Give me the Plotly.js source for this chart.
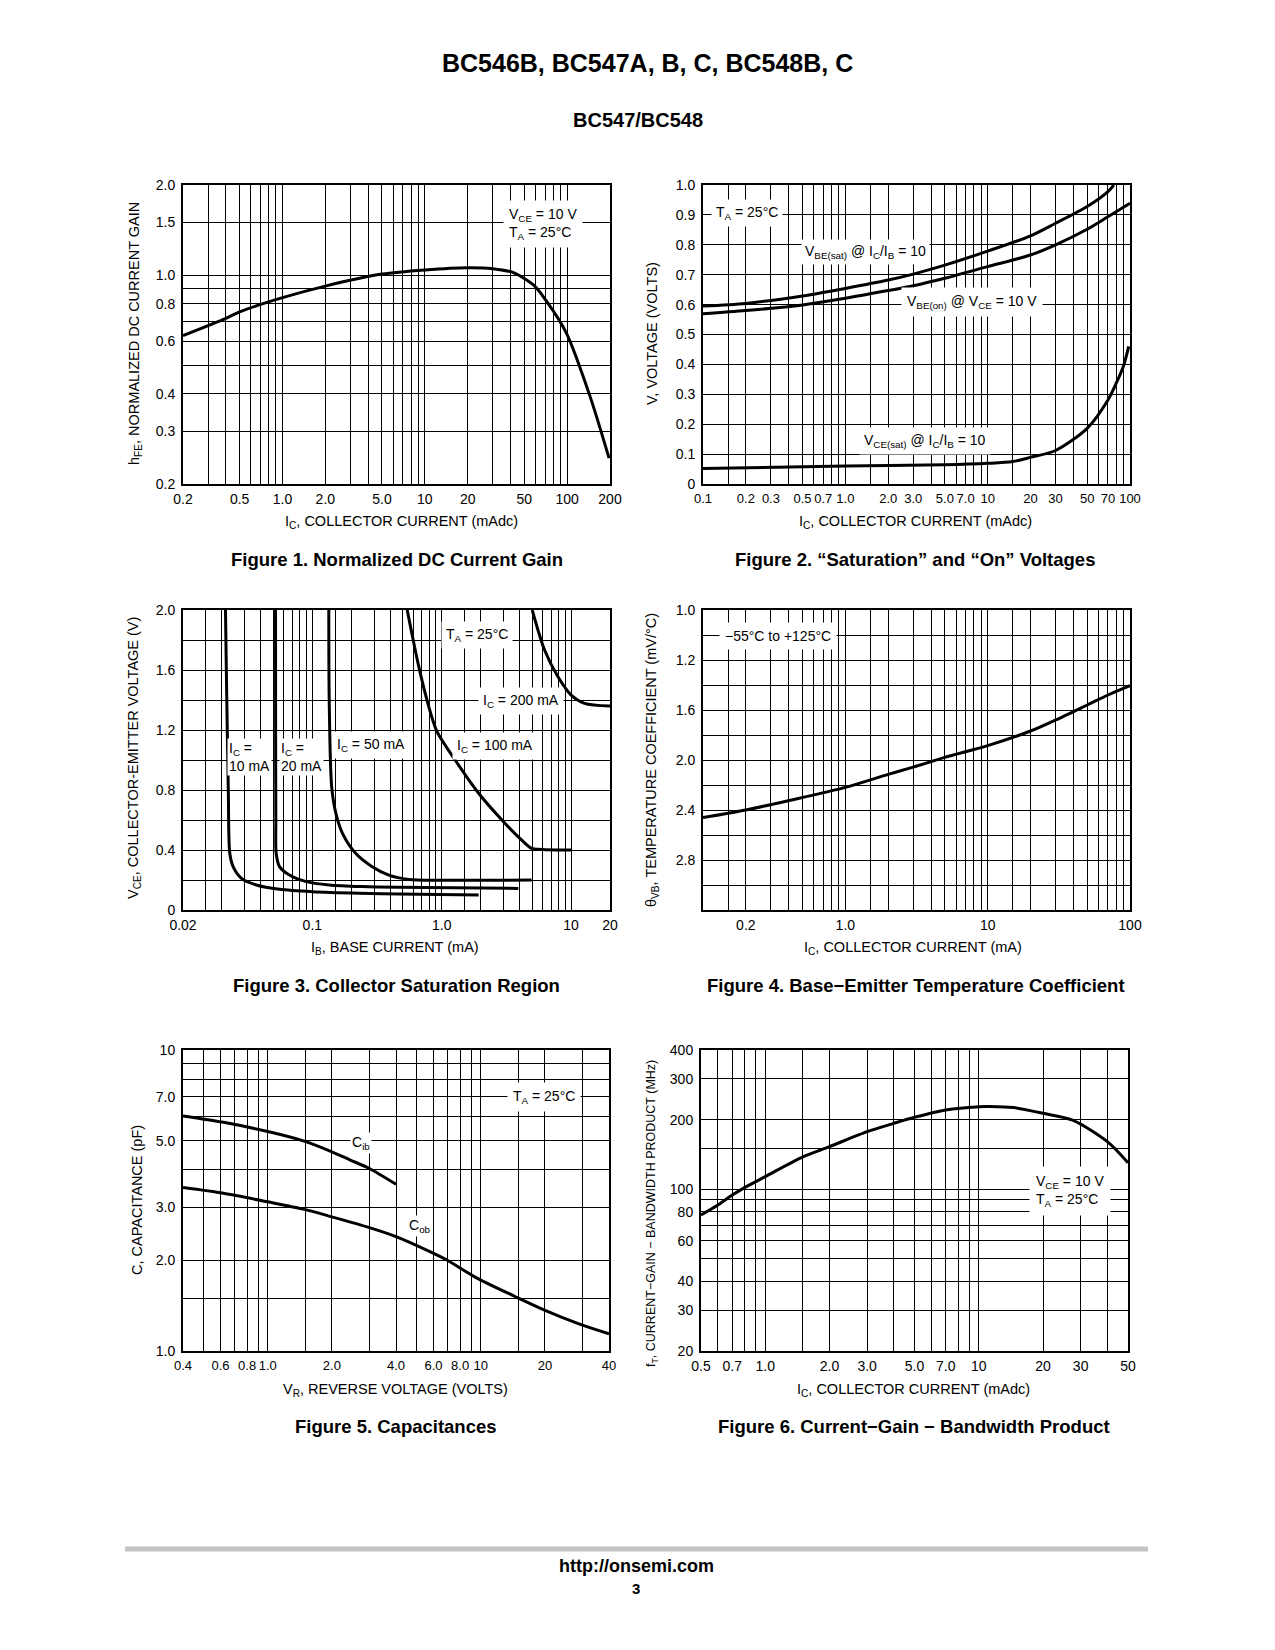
<!DOCTYPE html>
<html><head><meta charset="utf-8">
<script src="https://cdn.plot.ly/plotly-3.0.1.min.js"></script>
<style>html,body{margin:0;padding:0;background:#fff;} #chart{width:1275px;height:1650px;}</style>
</head><body><div id="chart"></div>
<script>
// ---------------- DATA ----------------
// Figure 1: Normalized DC current gain
const fig1_ic  = [0.2, 0.4, 0.5, 1.0, 2.0, 5.0, 10, 20, 30, 42, 58, 72, 99, 145, 197];
const fig1_hfe = [0.627, 0.716, 0.753, 0.84, 0.918, 1.007, 1.04, 1.058, 1.05, 1.018, 0.926, 0.814, 0.638, 0.392, 0.244];
const fig1_xticks  = [0.2, 0.5, 1, 2, 5, 10, 20, 50, 100, 200];
const fig1_xlabels = ['0.2','0.5','1.0','2.0','5.0','10','20','50','100','200'];
const fig1_xgrid   = [0.3,0.4,0.6,0.7,0.8,0.9,3,4,6,7,8,9,30,40,60,70,80,90];
const fig1_yticks  = [0.2, 0.3, 0.4, 0.6, 0.8, 1.0, 1.5, 2.0];
const fig1_ylabels = ['0.2','0.3','0.4','0.6','0.8','1.0','1.5','2.0'];
const fig1_ygrid   = [0.5, 0.7, 0.9];

// Figure 2: Saturation and On voltages
const fig2_ic_besat = [0.1, 0.2, 0.5, 1.0, 2.0, 3.0, 5.0, 10, 20, 30, 50, 70, 77];
const fig2_vbesat   = [0.595, 0.604, 0.629, 0.654, 0.682, 0.702, 0.732, 0.779, 0.83, 0.872, 0.928, 0.978, 1.0];
const fig2_ic_beon  = [0.1, 0.2, 0.5, 1.0, 2.0, 3.0, 5.0, 10, 20, 30, 50, 70, 100];
const fig2_vbeon    = [0.569, 0.58, 0.599, 0.621, 0.647, 0.663, 0.688, 0.727, 0.766, 0.8, 0.852, 0.894, 0.939];
const fig2_ic_cesat = [0.1, 1.0, 5.0, 10, 15, 20, 30, 50, 70, 80, 90, 98];
const fig2_vcesat   = [0.052, 0.06, 0.064, 0.069, 0.075, 0.089, 0.112, 0.186, 0.281, 0.337, 0.395, 0.46];
const fig2_xticks  = [0.1, 0.2, 0.3, 0.5, 0.7, 1, 2, 3, 5, 7, 10, 20, 30, 50, 70, 100];
const fig2_xlabels = ['0.1','0.2','0.3','0.5','0.7','1.0','2.0','3.0','5.0','7.0','10','20','30','50','70','100'];
const fig2_xgrid   = [0.15,0.4,0.6,0.8,0.9,1.5,4,6,8,9,15,40,60,80,90];
const fig2_yticks  = [0, 0.1, 0.2, 0.3, 0.4, 0.5, 0.6, 0.7, 0.8, 0.9, 1.0];
const fig2_ylabels = ['0','0.1','0.2','0.3','0.4','0.5','0.6','0.7','0.8','0.9','1.0'];
const fig2_ygrid   = [];

// Figure 3: Collector saturation region
const fig3_ib_10  = [0.0213, 0.0218, 0.0224, 0.023, 0.0244, 0.0283, 0.0369, 0.0557, 0.1004, 0.23, 0.465, 1.93];
const fig3_vce_10 = [2.0, 1.4, 0.8, 0.378, 0.289, 0.211, 0.167, 0.138, 0.122, 0.112, 0.107, 0.1];
const fig3_ib_20  = [0.0519, 0.052, 0.0522, 0.0525, 0.0557, 0.0665, 0.0894, 0.135, 0.244, 0.465, 3.91];
const fig3_vce_20 = [2.0, 1.2, 0.6, 0.378, 0.289, 0.233, 0.189, 0.167, 0.156, 0.151, 0.144];
const fig3_ib_50  = [0.134, 0.135, 0.141, 0.152, 0.171, 0.216, 0.29, 0.39, 0.556, 0.948, 4.95];
const fig3_vce_50 = [2.0, 1.4, 0.822, 0.644, 0.511, 0.378, 0.289, 0.233, 0.204, 0.198, 0.2];
const fig3_ib_100  = [0.541, 0.665, 0.794, 0.92, 1.27, 1.93, 2.92, 4.14, 4.95, 5.92, 10];
const fig3_vce_100 = [2.0, 1.622, 1.356, 1.189, 1.0, 0.778, 0.6, 0.467, 0.411, 0.404, 0.4];
const fig3_ib_200  = [5.01, 6.24, 7.9, 10.0, 12.7, 20];
const fig3_vce_200 = [2.0, 1.733, 1.556, 1.433, 1.378, 1.36];
const fig3_xticks  = [0.01, 0.1, 1, 10, 20];
const fig3_xlabels = ['0.02','0.1','1.0','10','20'];
const fig3_xgrid   = [0.015,0.02,0.03,0.04,0.05,0.06,0.07,0.08,0.09,0.15,0.2,0.3,0.4,0.5,0.6,0.7,0.8,0.9,1.5,2,3,4,5,6,7,8,9];
const fig3_yticks  = [0, 0.4, 0.8, 1.2, 1.6, 2.0];
const fig3_ylabels = ['0','0.4','0.8','1.2','1.6','2.0'];
const fig3_ygrid   = [0.2, 0.6, 1.0, 1.4, 1.8];

// Figure 4: Base-emitter temperature coefficient
const fig4_ic    = [0.1, 0.2, 0.4, 1.0, 2.0, 3.0, 5.0, 10, 20, 30, 50, 70, 100];
const fig4_theta = [2.461, 2.40, 2.325, 2.219, 2.115, 2.057, 1.979, 1.885, 1.768, 1.68, 1.56, 1.48, 1.405];
const fig4_xticks  = [0.2, 1, 10, 100];
const fig4_xlabels = ['0.2','1.0','10','100'];
const fig4_xgrid   = [0.15,0.3,0.4,0.5,0.6,0.7,0.8,0.9,1.5,2,3,4,5,6,7,8,9,15,20,30,40,50,60,70,80,90];
const fig4_yticks  = [0.8, 1.2, 1.6, 2.0, 2.4, 2.8];
const fig4_ylabels = ['1.0','1.2','1.6','2.0','2.4','2.8'];
const fig4_ygrid   = [1.0, 1.4, 1.8, 2.2, 2.6, 3.0];

// Figure 5: Capacitances
const fig5_vr_ib = [0.4, 0.62, 1.0, 1.47, 2.0, 2.44, 3.0, 4.0];
const fig5_cib   = [6.04, 5.75, 5.36, 4.99, 4.59, 4.31, 4.04, 3.58];
const fig5_vr_ob = [0.4, 0.62, 1.0, 1.47, 2.0, 3.0, 4.0, 5.77, 6.9, 9.55, 14.4, 19.3, 28.9, 40];
const fig5_cob   = [3.49, 3.34, 3.13, 2.96, 2.79, 2.57, 2.40, 2.14, 2.01, 1.75, 1.52, 1.38, 1.23, 1.14];
const fig5_xticks  = [0.4, 0.6, 0.8, 1, 2, 4, 6, 8, 10, 20, 40];
const fig5_xlabels = ['0.4','0.6','0.8','1.0','2.0','4.0','6.0','8.0','10','20','40'];
const fig5_xgrid   = [0.5, 0.7, 0.9, 1.5, 3, 5, 7, 9, 15, 30];
const fig5_yticks  = [1, 2, 3, 5, 7, 10];
const fig5_ylabels = ['1.0','2.0','3.0','5.0','7.0','10'];
const fig5_ygrid   = [1.5, 4, 6, 8, 9];

// Figure 6: Current-gain bandwidth product
const fig6_ic = [0.5, 0.6, 0.7, 0.8, 1.0, 1.5, 2.0, 3.0, 4.0, 5.0, 7.0, 10, 11.3, 14.5, 20, 27.5, 40, 50];
const fig6_ft = [77.4, 85.5, 94.4, 101.7, 113.4, 138, 152.9, 177.5, 192.8, 204.7, 220.3, 227.6, 228, 225.5, 213, 199, 160.7, 130.3];
const fig6_xticks  = [0.5, 0.7, 1, 2, 3, 5, 7, 10, 20, 30, 50];
const fig6_xlabels = ['0.5','0.7','1.0','2.0','3.0','5.0','7.0','10','20','30','50'];
const fig6_xgrid   = [0.6, 0.8, 0.9, 1.5, 4, 6, 8, 9, 40];
const fig6_yticks  = [20, 30, 40, 60, 80, 100, 200, 300, 400];
const fig6_ylabels = ['20','30','40','60','80','100','200','300','400'];
const fig6_ygrid   = [50, 70, 90, 150];

// ---------------- LAYOUT HELPERS ----------------
const W = 1275, H = 1650;
const FONT = "'Liberation Sans',Arial,Helvetica,sans-serif";
const px = p => p / W;
const py = p => 1 - p / H;
const L10 = Math.log10;

function minorGrid(vals) {
  return {tickmode: 'array', tickvals: vals, showgrid: true, gridcolor: '#000', gridwidth: 1, ticks: ''};
}
function xax(domain, range, type, vals, text, grid, anchor, fsize) {
  return {
    domain: [px(domain[0]), px(domain[1])], range: range, type: type,
    tickmode: 'array', tickvals: vals, ticktext: text, tickangle: 0,
    showgrid: true, gridcolor: '#000', gridwidth: 1, zeroline: false,
    showline: true, linecolor: '#000', linewidth: 2, mirror: true,
    ticks: '', ticklabelstandoff: 1, anchor: anchor, fixedrange: true,
    minor: minorGrid(grid),
    tickfont: {family: FONT, size: fsize || 14, color: '#000'}
  };
}
function yax(domain, range, type, vals, text, grid, anchor) {
  return {
    domain: [py(domain[1]), py(domain[0])], range: range, type: type,
    tickmode: 'array', tickvals: vals, ticktext: text,
    showgrid: true, gridcolor: '#000', gridwidth: 1, zeroline: false,
    showline: true, linecolor: '#000', linewidth: 2, mirror: true,
    ticks: '', ticklabelstandoff: 3, anchor: anchor, fixedrange: true,
    minor: minorGrid(grid),
    tickfont: {family: FONT, size: 14, color: '#000'}
  };
}
function curve(x, y, xa, ya) {
  return {x: x, y: y, xaxis: xa, yaxis: ya, type: 'scatter', mode: 'lines',
    line: {color: '#000', width: 3, shape: 'spline', smoothing: 0.8}, hoverinfo: 'skip'};
}

const traces = [
  curve(fig1_ic, fig1_hfe, 'x', 'y'),
  curve(fig2_ic_besat, fig2_vbesat, 'x2', 'y2'),
  curve(fig2_ic_beon, fig2_vbeon, 'x2', 'y2'),
  curve(fig2_ic_cesat, fig2_vcesat, 'x2', 'y2'),
  curve(fig3_ib_10, fig3_vce_10, 'x3', 'y3'),
  curve(fig3_ib_20, fig3_vce_20, 'x3', 'y3'),
  curve(fig3_ib_50, fig3_vce_50, 'x3', 'y3'),
  curve(fig3_ib_100, fig3_vce_100, 'x3', 'y3'),
  curve(fig3_ib_200, fig3_vce_200, 'x3', 'y3'),
  curve(fig4_ic, fig4_theta, 'x4', 'y4'),
  curve(fig5_vr_ib, fig5_cib, 'x5', 'y5'),
  curve(fig5_vr_ob, fig5_cob, 'x5', 'y5'),
  curve(fig6_ic, fig6_ft, 'x6', 'y6')
];

// plot boxes [left,right] and [top,bottom] in page pixels
const B1 = {x: [183, 610], y: [185, 484]};
const B2 = {x: [703, 1130], y: [185, 484]};
const B3 = {x: [183, 610], y: [610, 910]};
const B4 = {x: [703, 1130], y: [610, 910]};
const B5 = {x: [183, 609], y: [1050, 1351]};
const B6 = {x: [701, 1128], y: [1050, 1351]};

function txt(text, x, y, opts) {
  return Object.assign({
    text: text, xref: 'paper', yref: 'paper', x: px(x), y: py(y),
    xanchor: 'center', yanchor: 'middle', showarrow: false,
    font: {family: FONT, size: 14, color: '#000'}
  }, opts || {});
}
function lbl(text, x, y, pad, align) {
  return txt(text, x, y, {bgcolor: '#fff', borderpad: pad === undefined ? 3 : pad, align: align || 'center'});
}
const AX = {family: FONT, size: 14.5, color: '#000'};
function xtitle(text, x, y) { return txt(text, x, y, {font: AX}); }
function ytitle(text, x, y, size) {
  return txt(text, x, y, {textangle: -90, font: {family: FONT, size: size || 14.5, color: '#000'}});
}
const CAP = {family: FONT, size: 18.5, color: '#000'};

const annotations = [
  txt('<b>BC546B, BC547A, B, C, BC548B, C</b>', 647, 63, {font: {family: FONT, size: 25, color: '#000'}}),
  txt('<b>BC547/BC548</b>', 638, 120, {font: {family: FONT, size: 20, color: '#000'}}),

  // axis titles
  xtitle('I<sub>C</sub>, COLLECTOR CURRENT (mAdc)', 401, 522),
  ytitle('h<sub>FE</sub>, NORMALIZED DC CURRENT GAIN', 135, 334),
  xtitle('I<sub>C</sub>, COLLECTOR CURRENT (mAdc)', 915, 522),
  ytitle('V, VOLTAGE (VOLTS)', 652, 334),
  xtitle('I<sub>B</sub>, BASE CURRENT (mA)', 395, 948),
  ytitle('V<sub>CE</sub>, COLLECTOR-EMITTER VOLTAGE (V)', 134, 758),
  xtitle('I<sub>C</sub>, COLLECTOR CURRENT (mA)', 913, 948),
  ytitle('θ<sub>VB</sub>, TEMPERATURE COEFFICIENT (mV/°C)', 652, 760),
  xtitle('V<sub>R</sub>, REVERSE VOLTAGE (VOLTS)', 395, 1390),
  ytitle('C, CAPACITANCE (pF)', 137, 1200),
  xtitle('I<sub>C</sub>, COLLECTOR CURRENT (mAdc)', 913, 1390),
  ytitle('f<sub>T</sub>, CURRENT−GAIN − BANDWIDTH PRODUCT (MHz)', 652, 1214, 12.5),

  // captions
  txt('<b>Figure 1. Normalized DC Current Gain</b>', 397, 560, {font: CAP}),
  txt('<b>Figure 2. “Saturation” and “On” Voltages</b>', 915, 560, {font: CAP}),
  txt('<b>Figure 3. Collector Saturation Region</b>', 396, 986, {font: CAP}),
  txt('<b>Figure 4. Base−Emitter Temperature Coefficient</b>', 916, 986, {font: CAP}),
  txt('<b>Figure 5. Capacitances</b>', 396, 1426, {font: CAP}),
  txt('<b>Figure 6. Current−Gain − Bandwidth Product</b>', 914, 1426, {font: CAP}),

  // in-chart labels
  lbl('V<sub>CE</sub> = 10 V<br>T<sub>A</sub> = 25°C', 543, 224, 5, 'left'),
  lbl('T<sub>A</sub> = 25°C', 747, 213, 4),
  lbl('V<sub>BE(sat)</sub> @ I<sub>C</sub>/I<sub>B</sub> = 10', 865, 252, 3),
  lbl('V<sub>BE(on)</sub> @ V<sub>CE</sub> = 10 V', 972, 302, 5),
  lbl('V<sub>CE(sat)</sub> @ I<sub>C</sub>/I<sub>B</sub> = 10', 925, 441, 4),
  lbl('T<sub>A</sub> = 25°C', 477, 635, 4),
  lbl('I<sub>C</sub> = 200 mA', 521, 701, 4),
  lbl('I<sub>C</sub> = 100 mA', 495, 746, 4),
  lbl('I<sub>C</sub> = 50 mA', 371, 745, 4),
  lbl('I<sub>C</sub> =<br>10 mA', 249, 757, 1, 'left'),
  lbl('I<sub>C</sub> =<br>20 mA', 301, 757, 1, 'left'),
  lbl('−55°C to +125°C', 778, 636, 5),
  lbl('T<sub>A</sub> = 25°C', 544, 1097, 5),
  lbl('C<sub>ib</sub>', 361, 1143, 1),
  lbl('C<sub>ob</sub>', 420, 1226, 1),
  lbl('V<sub>CE</sub> = 10 V<br>T<sub>A</sub> = 25°C', 1070, 1191, 6, 'left'),

  // footer
  txt('<b>http://onsemi.com</b>', 636, 1566, {font: {family: FONT, size: 18, color: '#000'}}),
  txt('<b>3</b>', 636, 1588, {font: {family: FONT, size: 15, color: '#000'}})
];

const layout = {
  width: W, height: H, margin: {l: 0, r: 0, t: 0, b: 0},
  paper_bgcolor: '#fff', plot_bgcolor: '#fff', showlegend: false, hovermode: false,
  font: {family: FONT, color: '#000'},
  xaxis:  xax(B1.x, [L10(0.2), L10(200)], 'log', fig1_xticks, fig1_xlabels, fig1_xgrid, 'y'),
  yaxis:  yax(B1.y, [L10(0.2), L10(2.0)], 'log', fig1_yticks, fig1_ylabels, fig1_ygrid, 'x'),
  xaxis2: xax(B2.x, [-1, 2], 'log', fig2_xticks, fig2_xlabels, fig2_xgrid, 'y2', 13),
  yaxis2: yax(B2.y, [0, 1], 'linear', fig2_yticks, fig2_ylabels, fig2_ygrid, 'x2'),
  xaxis3: xax(B3.x, [L10(0.01), L10(20)], 'log', fig3_xticks, fig3_xlabels, fig3_xgrid, 'y3'),
  yaxis3: yax(B3.y, [0, 2], 'linear', fig3_yticks, fig3_ylabels, fig3_ygrid, 'x3'),
  xaxis4: xax(B4.x, [-1, 2], 'log', fig4_xticks, fig4_xlabels, fig4_xgrid, 'y4'),
  yaxis4: yax(B4.y, [3.2, 0.8], 'linear', fig4_yticks, fig4_ylabels, fig4_ygrid, 'x4'),
  xaxis5: xax(B5.x, [L10(0.4), L10(40)], 'log', fig5_xticks, fig5_xlabels, fig5_xgrid, 'y5', 13),
  yaxis5: yax(B5.y, [0, 1], 'log', fig5_yticks, fig5_ylabels, fig5_ygrid, 'x5'),
  xaxis6: xax(B6.x, [L10(0.5), L10(50)], 'log', fig6_xticks, fig6_xlabels, fig6_xgrid, 'y6'),
  yaxis6: yax(B6.y, [L10(20), L10(400)], 'log', fig6_yticks, fig6_ylabels, fig6_ygrid, 'x6'),
  annotations: annotations,
  shapes: [{type: 'line', xref: 'paper', yref: 'paper', x0: px(125), x1: px(1148), y0: py(1549), y1: py(1549),
            line: {color: '#c4c4c4', width: 5}}]
};

Plotly.newPlot('chart', traces, layout, {staticPlot: true, displayModeBar: false});
</script></body></html>
